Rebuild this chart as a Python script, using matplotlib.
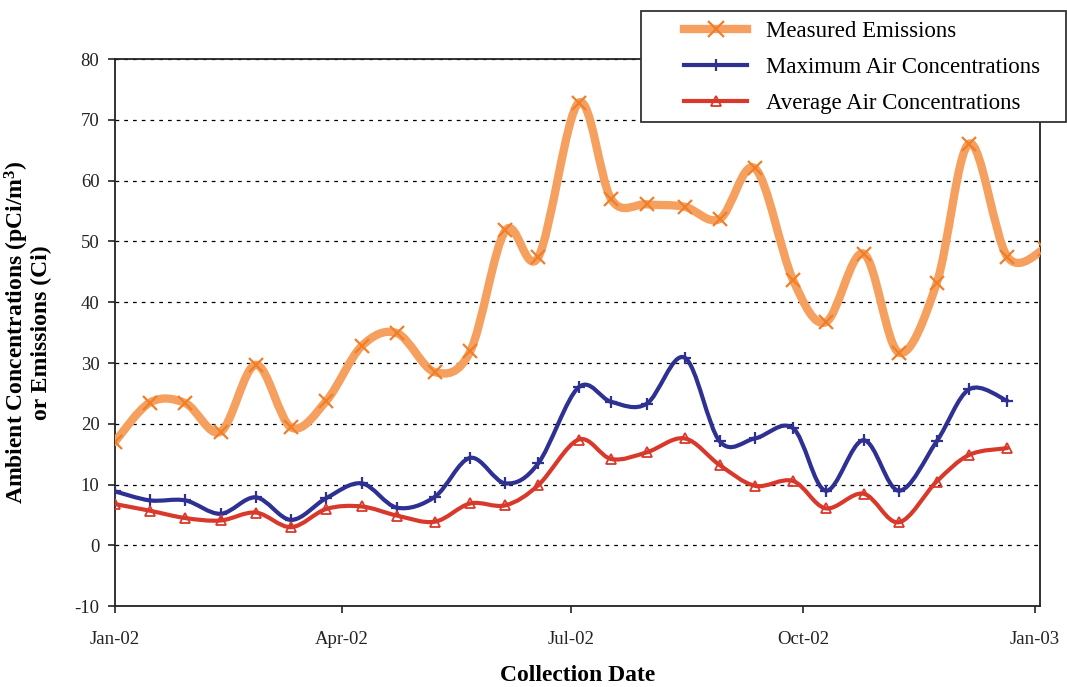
import numpy as np
import matplotlib.pyplot as plt
import matplotlib.dates as mdates
from matplotlib.path import Path
from matplotlib.patches import PathPatch, Rectangle
from matplotlib.lines import Line2D
from datetime import date

plt.rcParams['font.family'] = ['Liberation Serif', 'DejaVu Serif']
plt.rcParams['axes.unicode_minus'] = False
plt.rcParams['mathtext.fontset'] = 'custom'
plt.rcParams['mathtext.bf'] = 'Liberation Serif:bold'

# collection dates (roughly biweekly)
dates = [date(2002, 1, 1), date(2002, 1, 15), date(2002, 1, 29), date(2002, 2, 12),
         date(2002, 2, 26), date(2002, 3, 12), date(2002, 3, 26), date(2002, 4, 9),
         date(2002, 4, 23), date(2002, 5, 8), date(2002, 5, 22), date(2002, 6, 5),
         date(2002, 6, 18), date(2002, 7, 4), date(2002, 7, 17), date(2002, 7, 31),
         date(2002, 8, 15), date(2002, 8, 29), date(2002, 9, 12), date(2002, 9, 27),
         date(2002, 10, 10), date(2002, 10, 25), date(2002, 11, 8), date(2002, 11, 23),
         date(2002, 12, 6), date(2002, 12, 21), date(2003, 1, 5)]

# Measured emissions (Ci) - last point sits just past the axis end
emissions = [17.0, 23.5, 23.4, 18.7, 29.7, 19.4, 23.8, 32.8, 34.9, 28.5, 31.9,
             51.8, 47.4, 72.8, 56.9, 56.1, 55.7, 53.7, 62.0, 43.7, 36.7, 48.0,
             31.7, 43.1, 66.1, 47.5, 48.8]

# Maximum air concentrations (pCi/m3)
max_air = [8.9, 7.4, 7.4, 5.2, 7.9, 4.2, 7.8, 10.2, 6.2, 8.0, 14.4, 10.2, 13.5,
           26.0, 23.6, 23.3, 30.9, 17.1, 17.6, 19.3, 9.0, 17.3, 9.0, 17.1, 25.7, 23.8]

# Average air concentrations (pCi/m3)
avg_air = [6.8, 5.7, 4.5, 4.1, 5.4, 3.0, 6.0, 6.4, 4.9, 3.9, 6.9, 6.6, 9.9,
           17.4, 14.2, 15.3, 17.6, 13.2, 9.8, 10.6, 6.1, 8.5, 3.8, 10.5, 14.9, 16.0]

orange_line = '#F5A05E'
orange_mark = '#F07F2A'
blue = '#2E3192'
red = '#D9392B'


def smooth_path(x, y):
    # Excel-like smoothed line: Catmull-Rom segments as cubic Bezier curves
    pts = np.column_stack([x, y])
    n = len(pts)
    verts = [pts[0]]
    codes = [Path.MOVETO]
    for i in range(n - 1):
        p0 = pts[i - 1] if i > 0 else pts[i]
        p1 = pts[i]
        p2 = pts[i + 1]
        p3 = pts[i + 2] if i + 2 < n else pts[i + 1]
        verts += [p1 + (p2 - p0) / 6, p2 - (p3 - p1) / 6, p2]
        codes += [Path.CURVE4] * 3
    return Path(verts, codes)


fig = plt.figure(figsize=(10.67, 6.87), dpi=100)
ax = fig.add_axes([114.7 / 1067, 1 - 606.2 / 687, (1040 - 114.7) / 1067, (606.2 - 59) / 687])

xd = mdates.date2num(dates)

series = [
    (xd, emissions, orange_line, orange_mark, 6.0, 'x', 10, 1.6, 'none'),
    (xd[:len(max_air)], max_air, blue, blue, 3.0, '+', 8, 1.6, 'none'),
    (xd[:len(avg_air)], avg_air, red, red, 3.0, '^', 7, 1.3, 'none'),
]
for i, (x, y, lc, mc, lw, m, ms, mew, mfc) in enumerate(series):
    patch = PathPatch(smooth_path(x, y), fill=False, edgecolor=lc, lw=lw,
                      capstyle='round', joinstyle='round', zorder=3 + i)
    ax.add_patch(patch)
    ax.plot(x, y, linestyle='none', marker=m, ms=ms, mew=mew, mec=mc, mfc=mfc, zorder=3 + i)

ax.set_xlim(mdates.date2num(date(2002, 1, 1)), mdates.date2num(date(2003, 1, 3)))
ax.set_ylim(-10, 80)
ax.set_yticks(range(-10, 81, 10))
ax.xaxis.set_major_locator(mdates.MonthLocator(bymonth=[1, 4, 7, 10]))
ax.xaxis.set_major_formatter(mdates.DateFormatter('%b-%y'))

ax.yaxis.grid(True, linestyle=(0, (3, 4)), color='black', lw=0.9)
ax.set_axisbelow(True)
for s in ax.spines.values():
    s.set_color('#222222')
    s.set_linewidth(1.3)
ax.tick_params(direction='out', length=5, width=1.2, labelsize=13.5, colors='#222222')
ax.tick_params(axis='x', pad=13)
ax.tick_params(axis='y', pad=6)

ax.set_xlabel('Collection Date', fontsize=17, fontweight='bold', labelpad=12)
ax.set_ylabel('Ambient Concentrations (pCi/m$\\mathbf{^3}$)\nor Emissions (Ci)',
              fontsize=17, fontweight='bold', linespacing=1.0)
ax.yaxis.set_label_coords(-0.068, 0.5)

# legend box overlapping the top right corner
fig.patches.append(Rectangle((641 / 1067, 1 - 122 / 687), (1066 - 641) / 1067, 111 / 687,
                             transform=fig.transFigure, facecolor='white',
                             edgecolor='#333333', lw=1.3, zorder=10))
handles = [
    Line2D([], [], color=orange_line, lw=6, marker='x', ms=11, mec=orange_mark, mew=1.6),
    Line2D([], [], color=blue, lw=3, marker='+', ms=9, mec=blue, mew=1.6),
    Line2D([], [], color=red, lw=3, marker='^', ms=7, mec=red, mfc='none', mew=1.3),
]
labels = ['Measured Emissions', 'Maximum Air Concentrations', 'Average Air Concentrations']
leg = fig.legend(handles, labels, loc='upper left', bbox_to_anchor=(675 / 1067, 1 - 12 / 687),
                 frameon=False, fontsize=16.5, handlelength=2.75, handletextpad=0.8,
                 labelspacing=0.64, borderaxespad=0)
leg.set_zorder(11)

fig.savefig('out.png', dpi=100)
